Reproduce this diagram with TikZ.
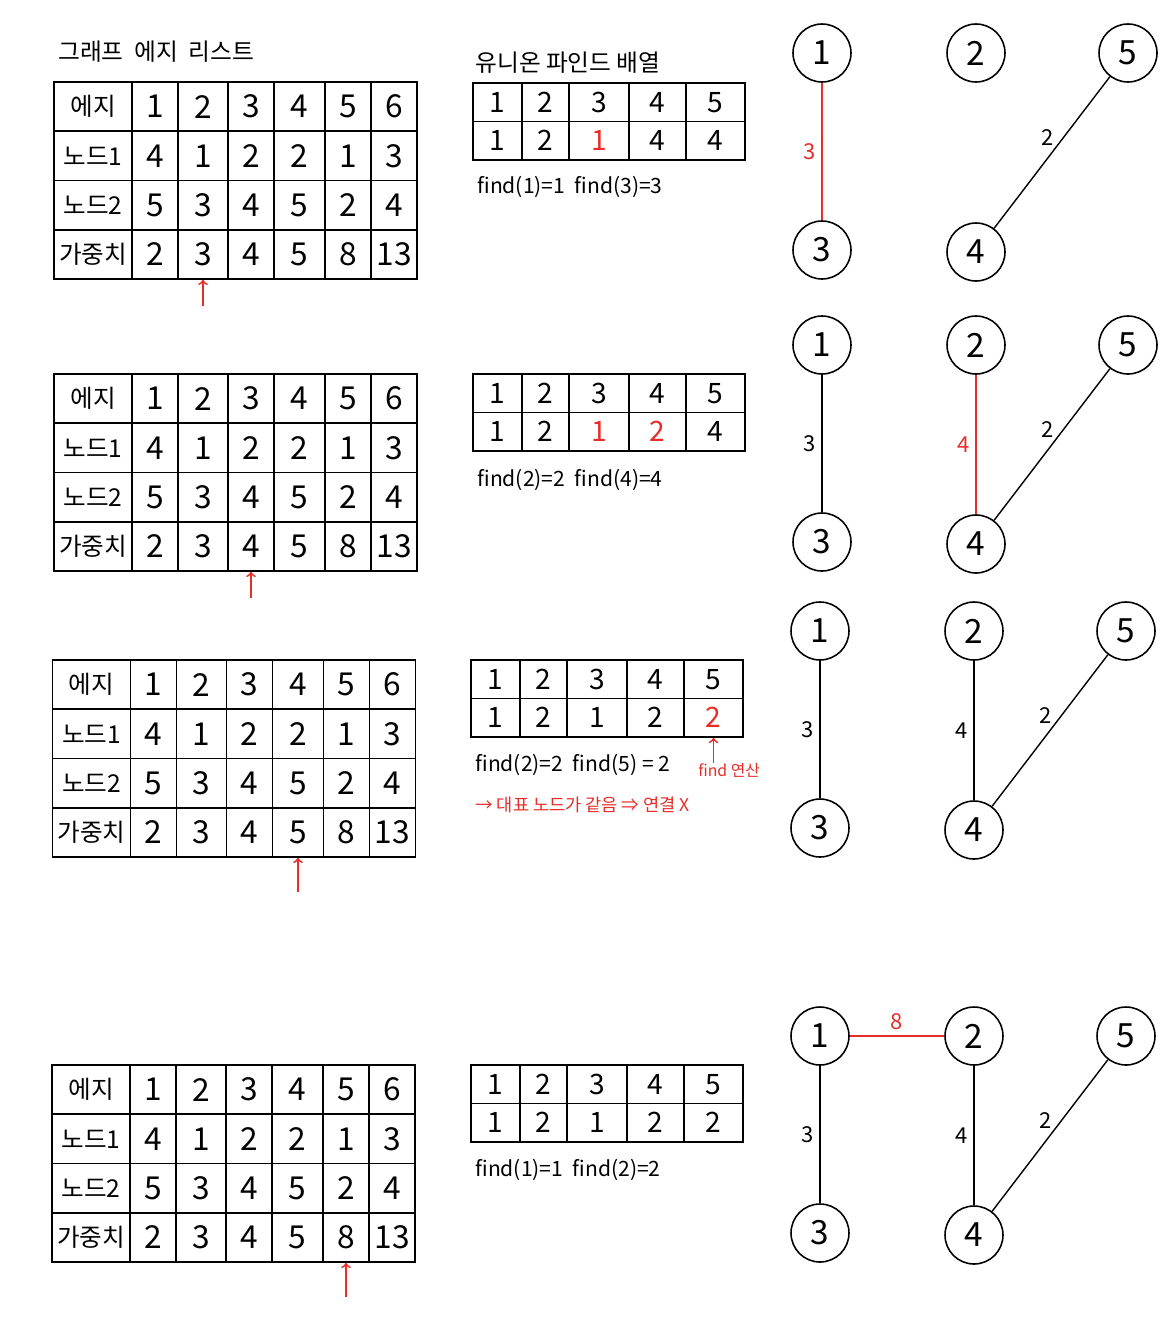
\documentclass[tikz,border=0pt]{standalone}
\usepackage{fontspec}
\setmainfont{Noto Sans CJK KR}
\usepackage{xcolor}
\usetikzlibrary{arrows,positioning}
\definecolor{pen}{RGB}{232,45,40}

\def\ecols{{0,78,124,174,220,271,317,363}}
\def\ucols{{0,49,96,156,213,272}}
\newcommand{\hl}[1]{\textcolor{pen}{#1}}
\newcommand{\hdfont}{\fontsize{14}{14}\selectfont}

% edge list table: prefix, x, y
\newcommand{\edgetable}[3]{
	\begin{scope}[shift={(#2,#3)}]
		\foreach \row [count=\ri] in {{에지,1,2,3,4,5,6},{노드1,4,1,2,2,1,3},{노드2,5,3,4,5,2,4},{가중치,2,3,4,5,8,13}}
		\foreach \txt [count=\ci] in \row {
			\pgfmathsetmacro\xa{\ecols[\ci-1]}
			\pgfmathsetmacro\xb{\ecols[\ci]}
			\pgfmathsetmacro\cw{(\xb-\xa)*0.02}
			\node [ecell, minimum width=\cw cm] (#1-\ri-\ci) at ({(\xa+\xb)/2},{(\ri-0.5)*49.25}) {\ifnum\ci=1 \hdfont\fi\txt};
		}
	\end{scope}
}

% union find table: prefix, x, y, parents
\newcommand{\uftable}[4]{
	\begin{scope}[shift={(#2,#3)}]
		\foreach \row [count=\ri] in {{1,2,3,4,5},{#4}}
		\foreach \txt [count=\ci] in \row {
			\pgfmathsetmacro\xa{\ucols[\ci-1]}
			\pgfmathsetmacro\xb{\ucols[\ci]}
			\pgfmathsetmacro\cw{(\xb-\xa)*0.02}
			\node [ucell, minimum width=\cw cm] (#1-\ri-\ci) at ({(\xa+\xb)/2},{(\ri-0.5)*38.5}) {\txt};
		}
	\end{scope}
}

% graph nodes: prefix, x, y
\newcommand{\ufgraph}[3]{
	\begin{scope}[shift={(#2,#3)}]
		\node [vtx] (#1-1) at (0,0) {1};
		\node [vtx] (#1-2) at (154,0) {2};
		\node [vtx] (#1-5) at (306,0) {5};
		\node [vtx] (#1-3) at (0,197) {3};
		\node [vtx] (#1-4) at (154,199) {4};
	\end{scope}
}

\begin{document}
\begin{tikzpicture}[
		x=0.02cm, y=-0.02cm,
		ecell/.style={draw, line width=1pt, minimum height=0.985cm, inner sep=0pt, font=\fontsize{18}{18}\selectfont},
		ucell/.style={draw, line width=1pt, minimum height=0.77cm, inner sep=0pt, font=\fontsize{16}{16}\selectfont},
		vtx/.style={circle, draw, line width=.9pt, minimum size=1.16cm, inner sep=0pt, font=\fontsize{19}{19}\selectfont},
		wlabel/.style={font=\fontsize{12.5}{12.5}\selectfont, inner sep=3pt},
		heading/.style={anchor=west, inner sep=0pt, font=\fontsize{13.5}{13.5}\selectfont},
		note/.style={anchor=west, inner sep=0pt, font=\fontsize{12}{12}\selectfont},
		edge/.style={line width=.8pt},
		hl arrow/.style={->, pen, line width=1pt}]
		\useasboundingbox (0,0) rectangle (1167,1325);

		\node [heading] (elt) at (58,52) {그래프\ \ 에지\ \ 리스트};
		\node [heading] (uft) at (475,63) {유니온\ 파인드\ 배열};

		% step 1
		\edgetable{e1}{54}{82}
		\draw [hl arrow] (e1-4-3.south) ++(0,26) -- (e1-4-3.south);
		\uftable{u1}{473}{83}{1,2,\hl{1},4,4}
		\node [note] (f1) at (477,187) {find(1)=1\ \ find(3)=3};
		\ufgraph{g1}{822}{53}
		\draw [edge, pen] (g1-1) -- node [wlabel, left, text=pen] {3} (g1-3);
		\draw [edge] (g1-4) -- node [wlabel, left=2pt, pos=.6] {2} (g1-5);

		% step 2
		\edgetable{e2}{54}{374}
		\draw [hl arrow] (e2-4-4.south) ++(0,26) -- (e2-4-4.south);
		\uftable{u2}{473}{374}{1,2,\hl{1},\hl{2},4}
		\node [note] (f2) at (477,480) {find(2)=2\ \ find(4)=4};
		\ufgraph{g2}{822}{345}
		\draw [edge] (g2-1) -- node [wlabel, left] {3} (g2-3);
		\draw [edge, pen] (g2-2) -- node [wlabel, left, text=pen] {4} (g2-4);
		\draw [edge] (g2-4) -- node [wlabel, left=2pt, pos=.6] {2} (g2-5);

		% step 3
		\edgetable{e3}{52.5}{660}
		\draw [hl arrow] (e3-4-5.south) ++(0,34) -- (e3-4-5.south);
		\uftable{u3}{471}{660}{1,2,1,2,\hl{2}}
		\node [note] (f3) at (475,765) {find(2)=2\ \ find(5) = 2};
		\node [note, text=pen, font=\fontsize{9}{9}\selectfont] (fop) at (698,770) {find 연산};
		\draw [hl arrow] (u3-2-5.south |- fop.north) -- (u3-2-5.south);
		\node [note, text=pen, font=\fontsize{10}{10}\selectfont] (same) at (475,805) {→ 대표 노드가\ 같음 ⇒ 연결 X};
		\ufgraph{g3}{820}{631}
		\draw [edge] (g3-1) -- node [wlabel, left] {3} (g3-3);
		\draw [edge] (g3-2) -- node [wlabel, left] {4} (g3-4);
		\draw [edge] (g3-4) -- node [wlabel, left=2pt, pos=.6] {2} (g3-5);

		% step 4
		\edgetable{e4}{52}{1065}
		\draw [hl arrow] (e4-4-6.south) ++(0,34) -- (e4-4-6.south);
		\uftable{u4}{471}{1065}{1,2,1,2,2}
		\node [note] (f4) at (475,1170) {find(1)=1\ \ find(2)=2};
		\ufgraph{g4}{820}{1036}
		\draw [edge, pen] (g4-1) -- node [wlabel, above, text=pen] {8} (g4-2);
		\draw [edge] (g4-1) -- node [wlabel, left] {3} (g4-3);
		\draw [edge] (g4-2) -- node [wlabel, left] {4} (g4-4);
		\draw [edge] (g4-4) -- node [wlabel, left=2pt, pos=.6] {2} (g4-5);
\end{tikzpicture}
\end{document}
